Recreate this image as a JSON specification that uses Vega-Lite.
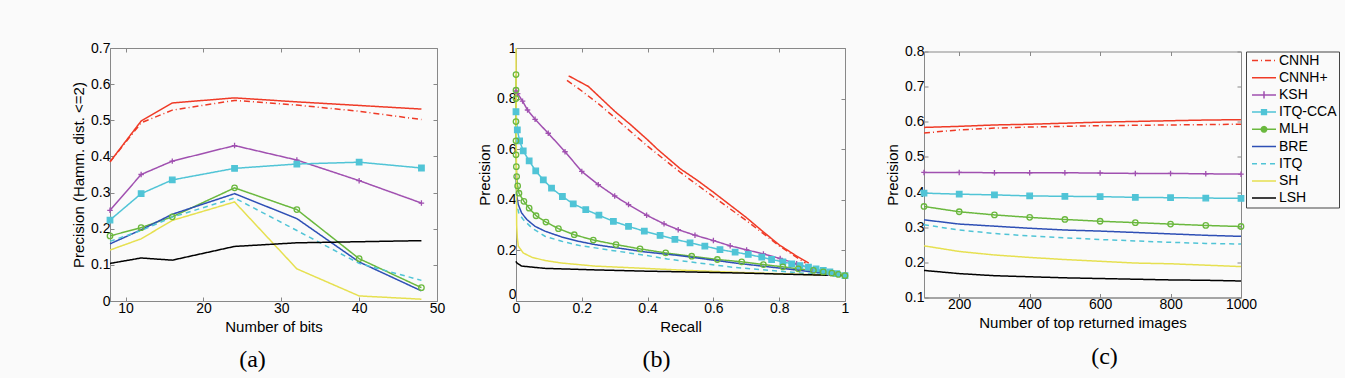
{
  "$schema": "https://vega.github.io/schema/vega-lite/v6.json",
  "background": "#fafafa",
  "padding": {"left": 71, "top": 40, "right": 5, "bottom": 5},
  "config": {
    "font": "Liberation Sans",
    "view": {"stroke": "#888", "strokeWidth": 1},
    "axis": {
      "domainColor": "#888", "tickColor": "#888", "tickSize": -4, "grid": false, "tickCount": 20,
      "labelFont": "Liberation Sans", "labelFontSize": 14, "labelColor": "#000", "labelPadding": 4,
      "labelFlush": false, "labelOverlap": false,
      "titleFont": "Liberation Sans", "titleFontSize": 15, "titleFontWeight": "normal", "titleColor": "#000"
    },
    "legend": {
      "labelFont": "Liberation Sans", "labelFontSize": 14, "labelColor": "#000",
      "strokeColor": "#444", "padding": 2, "symbolSize": 144, "symbolStrokeWidth": 1.5,
      "rowPadding": 3.2, "offset": 2, "symbolType": "stroke", "symbolOffset": 9, "labelOffset": 8
    },
    "title": {"font": "Liberation Serif", "fontSize": 24, "fontWeight": "normal", "color": "#000", "orient": "bottom", "frame": "group", "offset": 14}
  },
  "datasets": {
    "a": [
      {"method": "CNNH", "bits": 8, "precision": 0.385}, {"method": "CNNH", "bits": 12, "precision": 0.493}, {"method": "CNNH", "bits": 16, "precision": 0.528}, {"method": "CNNH", "bits": 24, "precision": 0.555}, {"method": "CNNH", "bits": 32, "precision": 0.542}, {"method": "CNNH", "bits": 40, "precision": 0.525}, {"method": "CNNH", "bits": 48, "precision": 0.502},
      {"method": "CNNH+", "bits": 8, "precision": 0.385}, {"method": "CNNH+", "bits": 12, "precision": 0.498}, {"method": "CNNH+", "bits": 16, "precision": 0.548}, {"method": "CNNH+", "bits": 24, "precision": 0.562}, {"method": "CNNH+", "bits": 32, "precision": 0.551}, {"method": "CNNH+", "bits": 40, "precision": 0.541}, {"method": "CNNH+", "bits": 48, "precision": 0.531},
      {"method": "KSH", "bits": 8, "precision": 0.251}, {"method": "KSH", "bits": 12, "precision": 0.35}, {"method": "KSH", "bits": 16, "precision": 0.387}, {"method": "KSH", "bits": 24, "precision": 0.43}, {"method": "KSH", "bits": 32, "precision": 0.39}, {"method": "KSH", "bits": 40, "precision": 0.333}, {"method": "KSH", "bits": 48, "precision": 0.271},
      {"method": "ITQ-CCA", "bits": 8, "precision": 0.224}, {"method": "ITQ-CCA", "bits": 12, "precision": 0.297}, {"method": "ITQ-CCA", "bits": 16, "precision": 0.335}, {"method": "ITQ-CCA", "bits": 24, "precision": 0.367}, {"method": "ITQ-CCA", "bits": 32, "precision": 0.379}, {"method": "ITQ-CCA", "bits": 40, "precision": 0.384}, {"method": "ITQ-CCA", "bits": 48, "precision": 0.368},
      {"method": "MLH", "bits": 8, "precision": 0.18}, {"method": "MLH", "bits": 12, "precision": 0.203}, {"method": "MLH", "bits": 16, "precision": 0.233}, {"method": "MLH", "bits": 24, "precision": 0.313}, {"method": "MLH", "bits": 32, "precision": 0.253}, {"method": "MLH", "bits": 40, "precision": 0.117}, {"method": "MLH", "bits": 48, "precision": 0.037},
      {"method": "BRE", "bits": 8, "precision": 0.158}, {"method": "BRE", "bits": 12, "precision": 0.197}, {"method": "BRE", "bits": 16, "precision": 0.24}, {"method": "BRE", "bits": 24, "precision": 0.297}, {"method": "BRE", "bits": 32, "precision": 0.228}, {"method": "BRE", "bits": 40, "precision": 0.108}, {"method": "BRE", "bits": 48, "precision": 0.028},
      {"method": "ITQ", "bits": 8, "precision": 0.165}, {"method": "ITQ", "bits": 12, "precision": 0.195}, {"method": "ITQ", "bits": 16, "precision": 0.232}, {"method": "ITQ", "bits": 24, "precision": 0.285}, {"method": "ITQ", "bits": 32, "precision": 0.195}, {"method": "ITQ", "bits": 40, "precision": 0.104}, {"method": "ITQ", "bits": 48, "precision": 0.057},
      {"method": "SH", "bits": 8, "precision": 0.141}, {"method": "SH", "bits": 12, "precision": 0.172}, {"method": "SH", "bits": 16, "precision": 0.223}, {"method": "SH", "bits": 24, "precision": 0.274}, {"method": "SH", "bits": 32, "precision": 0.089}, {"method": "SH", "bits": 40, "precision": 0.014}, {"method": "SH", "bits": 48, "precision": 0.005},
      {"method": "LSH", "bits": 8, "precision": 0.104}, {"method": "LSH", "bits": 12, "precision": 0.119}, {"method": "LSH", "bits": 16, "precision": 0.113}, {"method": "LSH", "bits": 24, "precision": 0.151}, {"method": "LSH", "bits": 32, "precision": 0.161}, {"method": "LSH", "bits": 40, "precision": 0.164}, {"method": "LSH", "bits": 48, "precision": 0.167}
    ],
    "b": [
      {"method": "CNNH", "recall": 0.155, "precision": 0.872}, {"method": "CNNH", "recall": 0.2, "precision": 0.83}, {"method": "CNNH", "recall": 0.25, "precision": 0.78}, {"method": "CNNH", "recall": 0.3, "precision": 0.725}, {"method": "CNNH", "recall": 0.35, "precision": 0.668}, {"method": "CNNH", "recall": 0.4, "precision": 0.612}, {"method": "CNNH", "recall": 0.45, "precision": 0.56}, {"method": "CNNH", "recall": 0.5, "precision": 0.508}, {"method": "CNNH", "recall": 0.55, "precision": 0.46}, {"method": "CNNH", "recall": 0.6, "precision": 0.412}, {"method": "CNNH", "recall": 0.65, "precision": 0.365}, {"method": "CNNH", "recall": 0.7, "precision": 0.318}, {"method": "CNNH", "recall": 0.75, "precision": 0.268}, {"method": "CNNH", "recall": 0.8, "precision": 0.218}, {"method": "CNNH", "recall": 0.85, "precision": 0.175}, {"method": "CNNH", "recall": 0.88, "precision": 0.15},
      {"method": "CNNH+", "recall": 0.16, "precision": 0.89}, {"method": "CNNH+", "recall": 0.2, "precision": 0.862}, {"method": "CNNH+", "recall": 0.22, "precision": 0.848}, {"method": "CNNH+", "recall": 0.3, "precision": 0.75}, {"method": "CNNH+", "recall": 0.35, "precision": 0.695}, {"method": "CNNH+", "recall": 0.4, "precision": 0.637}, {"method": "CNNH+", "recall": 0.43, "precision": 0.6}, {"method": "CNNH+", "recall": 0.5, "precision": 0.522}, {"method": "CNNH+", "recall": 0.55, "precision": 0.478}, {"method": "CNNH+", "recall": 0.6, "precision": 0.43}, {"method": "CNNH+", "recall": 0.65, "precision": 0.38}, {"method": "CNNH+", "recall": 0.7, "precision": 0.33}, {"method": "CNNH+", "recall": 0.75, "precision": 0.275}, {"method": "CNNH+", "recall": 0.8, "precision": 0.222}, {"method": "CNNH+", "recall": 0.85, "precision": 0.18}, {"method": "CNNH+", "recall": 0.89, "precision": 0.15},
      {"method": "KSH", "recall": 0, "precision": 0.83}, {"method": "KSH", "recall": 0.005, "precision": 0.82}, {"method": "KSH", "recall": 0.02, "precision": 0.79}, {"method": "KSH", "recall": 0.035, "precision": 0.755}, {"method": "KSH", "recall": 0.058, "precision": 0.718}, {"method": "KSH", "recall": 0.098, "precision": 0.663}, {"method": "KSH", "recall": 0.149, "precision": 0.59}, {"method": "KSH", "recall": 0.2, "precision": 0.512}, {"method": "KSH", "recall": 0.25, "precision": 0.46}, {"method": "KSH", "recall": 0.3, "precision": 0.415}, {"method": "KSH", "recall": 0.342, "precision": 0.381}, {"method": "KSH", "recall": 0.397, "precision": 0.339}, {"method": "KSH", "recall": 0.45, "precision": 0.305}, {"method": "KSH", "recall": 0.493, "precision": 0.282}, {"method": "KSH", "recall": 0.544, "precision": 0.26}, {"method": "KSH", "recall": 0.6, "precision": 0.239}, {"method": "KSH", "recall": 0.651, "precision": 0.218}, {"method": "KSH", "recall": 0.701, "precision": 0.202}, {"method": "KSH", "recall": 0.752, "precision": 0.186}, {"method": "KSH", "recall": 0.803, "precision": 0.168}, {"method": "KSH", "recall": 0.853, "precision": 0.147}, {"method": "KSH", "recall": 0.904, "precision": 0.125}, {"method": "KSH", "recall": 0.95, "precision": 0.11}, {"method": "KSH", "recall": 1, "precision": 0.1},
      {"method": "ITQ-CCA", "recall": 0, "precision": 0.748}, {"method": "ITQ-CCA", "recall": 0.004, "precision": 0.676}, {"method": "ITQ-CCA", "recall": 0.011, "precision": 0.633}, {"method": "ITQ-CCA", "recall": 0.022, "precision": 0.593}, {"method": "ITQ-CCA", "recall": 0.04, "precision": 0.554}, {"method": "ITQ-CCA", "recall": 0.06, "precision": 0.514}, {"method": "ITQ-CCA", "recall": 0.083, "precision": 0.479}, {"method": "ITQ-CCA", "recall": 0.108, "precision": 0.446}, {"method": "ITQ-CCA", "recall": 0.141, "precision": 0.413}, {"method": "ITQ-CCA", "recall": 0.174, "precision": 0.384}, {"method": "ITQ-CCA", "recall": 0.212, "precision": 0.361}, {"method": "ITQ-CCA", "recall": 0.252, "precision": 0.339}, {"method": "ITQ-CCA", "recall": 0.296, "precision": 0.315}, {"method": "ITQ-CCA", "recall": 0.342, "precision": 0.295}, {"method": "ITQ-CCA", "recall": 0.39, "precision": 0.276}, {"method": "ITQ-CCA", "recall": 0.438, "precision": 0.259}, {"method": "ITQ-CCA", "recall": 0.483, "precision": 0.244}, {"method": "ITQ-CCA", "recall": 0.529, "precision": 0.23}, {"method": "ITQ-CCA", "recall": 0.574, "precision": 0.217}, {"method": "ITQ-CCA", "recall": 0.62, "precision": 0.203}, {"method": "ITQ-CCA", "recall": 0.666, "precision": 0.193}, {"method": "ITQ-CCA", "recall": 0.706, "precision": 0.184}, {"method": "ITQ-CCA", "recall": 0.747, "precision": 0.173}, {"method": "ITQ-CCA", "recall": 0.777, "precision": 0.164}, {"method": "ITQ-CCA", "recall": 0.811, "precision": 0.155}, {"method": "ITQ-CCA", "recall": 0.838, "precision": 0.147}, {"method": "ITQ-CCA", "recall": 0.863, "precision": 0.14}, {"method": "ITQ-CCA", "recall": 0.889, "precision": 0.134}, {"method": "ITQ-CCA", "recall": 0.912, "precision": 0.127}, {"method": "ITQ-CCA", "recall": 0.934, "precision": 0.121}, {"method": "ITQ-CCA", "recall": 0.954, "precision": 0.115}, {"method": "ITQ-CCA", "recall": 0.975, "precision": 0.108}, {"method": "ITQ-CCA", "recall": 1, "precision": 0.1},
      {"method": "MLH", "recall": 0, "precision": 0.895}, {"method": "MLH", "recall": 0, "precision": 0.833}, {"method": "MLH", "recall": 0, "precision": 0.8}, {"method": "MLH", "recall": 0, "precision": 0.709}, {"method": "MLH", "recall": 0, "precision": 0.633}, {"method": "MLH", "recall": 0, "precision": 0.578}, {"method": "MLH", "recall": 0.001, "precision": 0.531}, {"method": "MLH", "recall": 0.002, "precision": 0.492}, {"method": "MLH", "recall": 0.005, "precision": 0.455}, {"method": "MLH", "recall": 0.009, "precision": 0.426}, {"method": "MLH", "recall": 0.024, "precision": 0.394}, {"method": "MLH", "recall": 0.04, "precision": 0.367}, {"method": "MLH", "recall": 0.061, "precision": 0.337}, {"method": "MLH", "recall": 0.091, "precision": 0.312}, {"method": "MLH", "recall": 0.129, "precision": 0.286}, {"method": "MLH", "recall": 0.177, "precision": 0.262}, {"method": "MLH", "recall": 0.235, "precision": 0.241}, {"method": "MLH", "recall": 0.304, "precision": 0.223}, {"method": "MLH", "recall": 0.377, "precision": 0.206}, {"method": "MLH", "recall": 0.455, "precision": 0.19}, {"method": "MLH", "recall": 0.534, "precision": 0.177}, {"method": "MLH", "recall": 0.612, "precision": 0.164}, {"method": "MLH", "recall": 0.686, "precision": 0.155}, {"method": "MLH", "recall": 0.752, "precision": 0.144}, {"method": "MLH", "recall": 0.811, "precision": 0.135}, {"method": "MLH", "recall": 0.858, "precision": 0.127}, {"method": "MLH", "recall": 0.904, "precision": 0.121}, {"method": "MLH", "recall": 0.934, "precision": 0.115}, {"method": "MLH", "recall": 0.96, "precision": 0.11}, {"method": "MLH", "recall": 0.98, "precision": 0.105}, {"method": "MLH", "recall": 1, "precision": 0.1},
      {"method": "BRE", "recall": 0, "precision": 0.5}, {"method": "BRE", "recall": 0.001, "precision": 0.45}, {"method": "BRE", "recall": 0.003, "precision": 0.41}, {"method": "BRE", "recall": 0.007, "precision": 0.381}, {"method": "BRE", "recall": 0.017, "precision": 0.348}, {"method": "BRE", "recall": 0.033, "precision": 0.322}, {"method": "BRE", "recall": 0.058, "precision": 0.295}, {"method": "BRE", "recall": 0.088, "precision": 0.276}, {"method": "BRE", "recall": 0.139, "precision": 0.253}, {"method": "BRE", "recall": 0.19, "precision": 0.236}, {"method": "BRE", "recall": 0.24, "precision": 0.223}, {"method": "BRE", "recall": 0.291, "precision": 0.213}, {"method": "BRE", "recall": 0.392, "precision": 0.194}, {"method": "BRE", "recall": 0.494, "precision": 0.18}, {"method": "BRE", "recall": 0.58, "precision": 0.165}, {"method": "BRE", "recall": 0.661, "precision": 0.151}, {"method": "BRE", "recall": 0.76, "precision": 0.136}, {"method": "BRE", "recall": 0.863, "precision": 0.121}, {"method": "BRE", "recall": 0.93, "precision": 0.11}, {"method": "BRE", "recall": 1, "precision": 0.1},
      {"method": "ITQ", "recall": 0, "precision": 0.4}, {"method": "ITQ", "recall": 0.004, "precision": 0.37}, {"method": "ITQ", "recall": 0.009, "precision": 0.345}, {"method": "ITQ", "recall": 0.022, "precision": 0.322}, {"method": "ITQ", "recall": 0.048, "precision": 0.289}, {"method": "ITQ", "recall": 0.088, "precision": 0.256}, {"method": "ITQ", "recall": 0.139, "precision": 0.236}, {"method": "ITQ", "recall": 0.19, "precision": 0.22}, {"method": "ITQ", "recall": 0.291, "precision": 0.2}, {"method": "ITQ", "recall": 0.392, "precision": 0.181}, {"method": "ITQ", "recall": 0.46, "precision": 0.166}, {"method": "ITQ", "recall": 0.52, "precision": 0.156}, {"method": "ITQ", "recall": 0.661, "precision": 0.133}, {"method": "ITQ", "recall": 0.863, "precision": 0.111}, {"method": "ITQ", "recall": 1, "precision": 0.1},
      {"method": "SH", "recall": 0, "precision": 1.0}, {"method": "SH", "recall": 0.001, "precision": 0.6}, {"method": "SH", "recall": 0.002, "precision": 0.3}, {"method": "SH", "recall": 0.004, "precision": 0.25}, {"method": "SH", "recall": 0.007, "precision": 0.217}, {"method": "SH", "recall": 0.022, "precision": 0.19}, {"method": "SH", "recall": 0.048, "precision": 0.173}, {"method": "SH", "recall": 0.088, "precision": 0.16}, {"method": "SH", "recall": 0.139, "precision": 0.15}, {"method": "SH", "recall": 0.24, "precision": 0.138}, {"method": "SH", "recall": 0.392, "precision": 0.129}, {"method": "SH", "recall": 0.519, "precision": 0.121}, {"method": "SH", "recall": 0.7, "precision": 0.112}, {"method": "SH", "recall": 0.85, "precision": 0.106}, {"method": "SH", "recall": 1, "precision": 0.1},
      {"method": "LSH", "recall": 0, "precision": 0.157}, {"method": "LSH", "recall": 0.002, "precision": 0.151}, {"method": "LSH", "recall": 0.017, "precision": 0.138}, {"method": "LSH", "recall": 0.088, "precision": 0.129}, {"method": "LSH", "recall": 0.24, "precision": 0.123}, {"method": "LSH", "recall": 0.392, "precision": 0.118}, {"method": "LSH", "recall": 0.519, "precision": 0.115}, {"method": "LSH", "recall": 0.7, "precision": 0.11}, {"method": "LSH", "recall": 0.85, "precision": 0.105}, {"method": "LSH", "recall": 1, "precision": 0.1}
    ],
    "c": [
      {"method": "CNNH", "n": 100, "precision": 0.568}, {"method": "CNNH", "n": 200, "precision": 0.577}, {"method": "CNNH", "n": 300, "precision": 0.582}, {"method": "CNNH", "n": 400, "precision": 0.585}, {"method": "CNNH", "n": 500, "precision": 0.587}, {"method": "CNNH", "n": 600, "precision": 0.589}, {"method": "CNNH", "n": 700, "precision": 0.59}, {"method": "CNNH", "n": 800, "precision": 0.591}, {"method": "CNNH", "n": 900, "precision": 0.592}, {"method": "CNNH", "n": 1000, "precision": 0.593},
      {"method": "CNNH+", "n": 100, "precision": 0.584}, {"method": "CNNH+", "n": 200, "precision": 0.587}, {"method": "CNNH+", "n": 300, "precision": 0.591}, {"method": "CNNH+", "n": 400, "precision": 0.593}, {"method": "CNNH+", "n": 500, "precision": 0.596}, {"method": "CNNH+", "n": 600, "precision": 0.599}, {"method": "CNNH+", "n": 700, "precision": 0.601}, {"method": "CNNH+", "n": 800, "precision": 0.603}, {"method": "CNNH+", "n": 900, "precision": 0.605}, {"method": "CNNH+", "n": 1000, "precision": 0.606},
      {"method": "KSH", "n": 100, "precision": 0.456}, {"method": "KSH", "n": 200, "precision": 0.456}, {"method": "KSH", "n": 300, "precision": 0.455}, {"method": "KSH", "n": 400, "precision": 0.455}, {"method": "KSH", "n": 500, "precision": 0.455}, {"method": "KSH", "n": 600, "precision": 0.454}, {"method": "KSH", "n": 700, "precision": 0.453}, {"method": "KSH", "n": 800, "precision": 0.453}, {"method": "KSH", "n": 900, "precision": 0.452}, {"method": "KSH", "n": 1000, "precision": 0.451},
      {"method": "ITQ-CCA", "n": 100, "precision": 0.397}, {"method": "ITQ-CCA", "n": 200, "precision": 0.394}, {"method": "ITQ-CCA", "n": 300, "precision": 0.392}, {"method": "ITQ-CCA", "n": 400, "precision": 0.389}, {"method": "ITQ-CCA", "n": 500, "precision": 0.388}, {"method": "ITQ-CCA", "n": 600, "precision": 0.387}, {"method": "ITQ-CCA", "n": 700, "precision": 0.385}, {"method": "ITQ-CCA", "n": 800, "precision": 0.384}, {"method": "ITQ-CCA", "n": 900, "precision": 0.383}, {"method": "ITQ-CCA", "n": 1000, "precision": 0.382},
      {"method": "MLH", "n": 100, "precision": 0.359}, {"method": "MLH", "n": 200, "precision": 0.344}, {"method": "MLH", "n": 300, "precision": 0.335}, {"method": "MLH", "n": 400, "precision": 0.328}, {"method": "MLH", "n": 500, "precision": 0.322}, {"method": "MLH", "n": 600, "precision": 0.317}, {"method": "MLH", "n": 700, "precision": 0.313}, {"method": "MLH", "n": 800, "precision": 0.309}, {"method": "MLH", "n": 900, "precision": 0.305}, {"method": "MLH", "n": 1000, "precision": 0.302},
      {"method": "BRE", "n": 100, "precision": 0.321}, {"method": "BRE", "n": 200, "precision": 0.309}, {"method": "BRE", "n": 300, "precision": 0.303}, {"method": "BRE", "n": 400, "precision": 0.297}, {"method": "BRE", "n": 500, "precision": 0.292}, {"method": "BRE", "n": 600, "precision": 0.289}, {"method": "BRE", "n": 700, "precision": 0.285}, {"method": "BRE", "n": 800, "precision": 0.281}, {"method": "BRE", "n": 900, "precision": 0.277}, {"method": "BRE", "n": 1000, "precision": 0.274},
      {"method": "ITQ", "n": 100, "precision": 0.307}, {"method": "ITQ", "n": 200, "precision": 0.292}, {"method": "ITQ", "n": 300, "precision": 0.282}, {"method": "ITQ", "n": 400, "precision": 0.275}, {"method": "ITQ", "n": 500, "precision": 0.27}, {"method": "ITQ", "n": 600, "precision": 0.265}, {"method": "ITQ", "n": 700, "precision": 0.261}, {"method": "ITQ", "n": 800, "precision": 0.257}, {"method": "ITQ", "n": 900, "precision": 0.254}, {"method": "ITQ", "n": 1000, "precision": 0.252},
      {"method": "SH", "n": 100, "precision": 0.247}, {"method": "SH", "n": 200, "precision": 0.231}, {"method": "SH", "n": 300, "precision": 0.221}, {"method": "SH", "n": 400, "precision": 0.214}, {"method": "SH", "n": 500, "precision": 0.208}, {"method": "SH", "n": 600, "precision": 0.203}, {"method": "SH", "n": 700, "precision": 0.198}, {"method": "SH", "n": 800, "precision": 0.196}, {"method": "SH", "n": 900, "precision": 0.192}, {"method": "SH", "n": 1000, "precision": 0.188},
      {"method": "LSH", "n": 100, "precision": 0.177}, {"method": "LSH", "n": 200, "precision": 0.168}, {"method": "LSH", "n": 300, "precision": 0.162}, {"method": "LSH", "n": 400, "precision": 0.159}, {"method": "LSH", "n": 500, "precision": 0.156}, {"method": "LSH", "n": 600, "precision": 0.154}, {"method": "LSH", "n": 700, "precision": 0.152}, {"method": "LSH", "n": 800, "precision": 0.15}, {"method": "LSH", "n": 900, "precision": 0.149}, {"method": "LSH", "n": 1000, "precision": 0.147}
    ]
  },
  "bounds": "flush",
  "spacing": 79,
  "center": true,
  "resolve": {"legend": {"color": "independent", "strokeDash": "independent"}},
  "hconcat": [
    {
      "width": 327, "height": 253,
      "data": {"name": "a"},
      "title": {"text": "(a)", "dx": -21},
      "resolve": {"axis": {"x": "independent", "y": "independent"}},
      "layer": [
        {
          "mark": {"type": "line", "strokeWidth": 1.5},
          "encoding": {
            "x": {"field": "bits", "type": "quantitative", "scale": {"domain": [8, 50], "nice": false, "zero": false}, "axis": {"values": [10, 20, 30, 40, 50], "title": "Number of bits", "format": "d"}},
            "y": {"field": "precision", "type": "quantitative", "scale": {"domain": [0, 0.7], "nice": false}, "axis": {"values": [0, 0.1, 0.2, 0.3, 0.4, 0.5, 0.6, 0.7], "title": "Precision (Hamm. dist. <=2)", "format": "~g"}},
            "color": {"field": "method", "type": "nominal", "scale": {"domain": ["CNNH", "CNNH+", "KSH", "ITQ-CCA", "MLH", "BRE", "ITQ", "SH", "LSH"], "range": ["#ef3a26", "#ef3a26", "#a050b0", "#50c4d6", "#6ab83e", "#2e4fb5", "#50c4d6", "#e6e050", "#000000"]}, "legend": null},
            "strokeDash": {"field": "method", "type": "nominal", "scale": {"domain": ["CNNH", "CNNH+", "KSH", "ITQ-CCA", "MLH", "BRE", "ITQ", "SH", "LSH"], "range": [[6, 3, 1, 3], [1, 0], [1, 0], [1, 0], [1, 0], [1, 0], [5, 4], [1, 0], [1, 0]]}, "legend": null}
          }
        },
        {
          "transform": [{"filter": {"field": "method", "oneOf": ["KSH", "ITQ-CCA", "MLH"]}}],
          "mark": {"type": "point", "size": 30, "strokeWidth": 1.3, "opacity": 1},
          "encoding": {
            "x": {"field": "bits", "type": "quantitative", "axis": {"orient": "top", "labels": false, "title": null, "domain": false, "values": [10, 20, 30, 40, 50]}},
            "y": {"field": "precision", "type": "quantitative", "axis": {"orient": "right", "labels": false, "title": null, "domain": false, "values": [0, 0.1, 0.2, 0.3, 0.4, 0.5, 0.6, 0.7]}},
            "color": {"field": "method", "type": "nominal", "legend": null},
            "shape": {"field": "method", "type": "nominal", "scale": {"domain": ["KSH", "ITQ-CCA", "MLH"], "range": ["M-1,0H1M0,-1V1", "square", "circle"]}, "legend": null},
            "fill": {"field": "method", "type": "nominal", "scale": {"domain": ["KSH", "ITQ-CCA", "MLH"], "range": ["transparent", "#50c4d6", "transparent"]}, "legend": null}
          }
        }
      ]
    },
    {
      "width": 329, "height": 253,
      "data": {"name": "b"},
      "title": {"text": "(b)", "dx": -24},
      "resolve": {"axis": {"x": "independent", "y": "independent"}},
      "layer": [
        {
          "mark": {"type": "line", "strokeWidth": 1.5},
          "encoding": {
            "x": {"field": "recall", "type": "quantitative", "scale": {"domain": [0, 1], "nice": false}, "axis": {"values": [0, 0.2, 0.4, 0.6, 0.8, 1], "title": "Recall", "format": "~g"}},
            "y": {"field": "precision", "type": "quantitative", "scale": {"domain": [0, 1], "nice": false}, "axis": {"values": [0, 0.2, 0.4, 0.6, 0.8, 1], "title": "Precision", "format": "~g", "labelBaseline": {"condition": {"test": "datum.value === 0", "value": "bottom"}, "value": "middle"}}},
            "order": {"value": null},
            "color": {"field": "method", "type": "nominal", "scale": {"domain": ["CNNH", "CNNH+", "KSH", "ITQ-CCA", "MLH", "BRE", "ITQ", "SH", "LSH"], "range": ["#ef3a26", "#ef3a26", "#a050b0", "#50c4d6", "#6ab83e", "#2e4fb5", "#50c4d6", "#e6e050", "#000000"]}, "legend": null},
            "strokeDash": {"field": "method", "type": "nominal", "scale": {"domain": ["CNNH", "CNNH+", "KSH", "ITQ-CCA", "MLH", "BRE", "ITQ", "SH", "LSH"], "range": [[6, 3, 1, 3], [1, 0], [1, 0], [1, 0], [1, 0], [1, 0], [5, 4], [1, 0], [1, 0]]}, "legend": null}
          }
        },
        {
          "transform": [{"filter": {"field": "method", "oneOf": ["KSH", "ITQ-CCA", "MLH"]}}],
          "mark": {"type": "point", "size": 30, "strokeWidth": 1.3, "opacity": 1},
          "encoding": {
            "x": {"field": "recall", "type": "quantitative", "axis": {"orient": "top", "labels": false, "title": null, "domain": false, "values": [0, 0.2, 0.4, 0.6, 0.8, 1]}},
            "y": {"field": "precision", "type": "quantitative", "axis": {"orient": "right", "labels": false, "title": null, "domain": false, "values": [0, 0.2, 0.4, 0.6, 0.8, 1]}},
            "color": {"field": "method", "type": "nominal", "legend": null},
            "shape": {"field": "method", "type": "nominal", "scale": {"domain": ["KSH", "ITQ-CCA", "MLH"], "range": ["M-1,0H1M0,-1V1", "square", "circle"]}, "legend": null},
            "fill": {"field": "method", "type": "nominal", "scale": {"domain": ["KSH", "ITQ-CCA", "MLH"], "range": ["transparent", "#50c4d6", "transparent"]}, "legend": null}
          }
        }
      ]
    },
    {
      "width": 317, "height": 246,
      "data": {"name": "c"},
      "title": {"text": "(c)", "dx": 22},
      "resolve": {"axis": {"x": "independent", "y": "independent"}},
      "layer": [
        {
          "mark": {"type": "line", "strokeWidth": 1.5},
          "encoding": {
            "x": {"field": "n", "type": "quantitative", "scale": {"domain": [100, 1000], "nice": false, "zero": false}, "axis": {"values": [200, 400, 600, 800, 1000], "title": "Number of top returned images", "format": "d"}},
            "y": {"field": "precision", "type": "quantitative", "scale": {"domain": [0.1, 0.8], "nice": false, "zero": false}, "axis": {"values": [0.1, 0.2, 0.3, 0.4, 0.5, 0.6, 0.7, 0.8], "title": "Precision", "format": "~g"}},
            "color": {"field": "method", "type": "nominal", "scale": {"domain": ["CNNH", "CNNH+", "KSH", "ITQ-CCA", "MLH", "BRE", "ITQ", "SH", "LSH"], "range": ["#ef3a26", "#ef3a26", "#a050b0", "#50c4d6", "#6ab83e", "#2e4fb5", "#50c4d6", "#e6e050", "#000000"]}, "legend": {"title": null, "orient": "right", "encode": {"symbols": {"update": {"shape": {"signal": "datum.value === 'KSH' ? 'M-2,0H2M0,-0.6V0.6' : datum.value === 'ITQ-CCA' ? 'M-2,0H2M-0.4,-0.4H0.4V0.4H-0.4Z' : datum.value === 'MLH' ? 'M-2,0H2M0.45,0A0.45,0.45 0 1,1 -0.45,0A0.45,0.45 0 1,1 0.45,0' : 'M-2,0H2'"}, "fill": {"signal": "datum.value === 'ITQ-CCA' ? '#50c4d6' : datum.value === 'MLH' ? '#6ab83e' : 'transparent'"}}}}}},
            "strokeDash": {"field": "method", "type": "nominal", "scale": {"domain": ["CNNH", "CNNH+", "KSH", "ITQ-CCA", "MLH", "BRE", "ITQ", "SH", "LSH"], "range": [[6, 3, 1, 3], [1, 0], [1, 0], [1, 0], [1, 0], [1, 0], [5, 4], [1, 0], [1, 0]]}, "legend": {"title": null, "orient": "right"}}
          }
        },
        {
          "transform": [{"filter": {"field": "method", "oneOf": ["KSH", "ITQ-CCA", "MLH"]}}],
          "mark": {"type": "point", "size": 30, "strokeWidth": 1.3, "opacity": 1},
          "encoding": {
            "x": {"field": "n", "type": "quantitative", "axis": {"orient": "top", "labels": false, "title": null, "domain": false, "values": [200, 400, 600, 800, 1000]}},
            "y": {"field": "precision", "type": "quantitative", "axis": {"orient": "right", "labels": false, "title": null, "domain": false, "values": [0.1, 0.2, 0.3, 0.4, 0.5, 0.6, 0.7, 0.8]}},
            "color": {"field": "method", "type": "nominal"},
            "shape": {"field": "method", "type": "nominal", "scale": {"domain": ["KSH", "ITQ-CCA", "MLH"], "range": ["M-1,0H1M0,-1V1", "square", "circle"]}, "legend": null},
            "fill": {"field": "method", "type": "nominal", "scale": {"domain": ["KSH", "ITQ-CCA", "MLH"], "range": ["transparent", "#50c4d6", "transparent"]}, "legend": null}
          }
        }
      ]
    }
  ]
}
